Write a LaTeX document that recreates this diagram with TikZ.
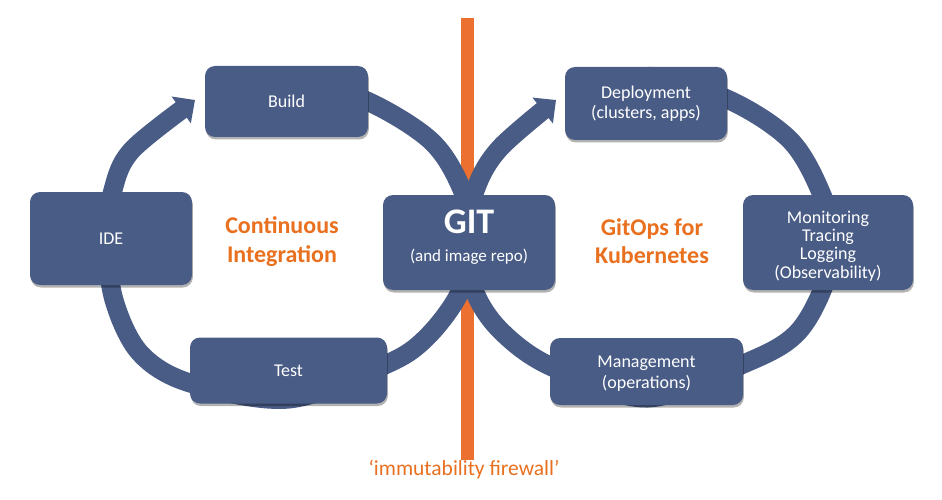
\documentclass[tikz,border=0pt]{standalone}
\usepackage{fontspec}
\setmainfont{Carlito}
\usetikzlibrary{arrows.meta,shadows}
\definecolor{boxblue}{HTML}{495C86}
\definecolor{fireorange}{HTML}{EC7130}
\definecolor{textorange}{HTML}{E8701F}
\begin{document}
\begin{tikzpicture}[x=1pt,y=-1pt,
  box/.style={rectangle, rounded corners=10pt, fill=boxblue, text=white, align=center,
    inner sep=0pt, font=\fontsize{18}{20.5}\selectfont,
    drop shadow={shadow xshift=0.8pt, shadow yshift=-2.5pt, opacity=0.3, fill=black}},
  boxtext/.style={text=white, align=center, inner sep=0pt, font=\fontsize{18}{20.5}\selectfont},
  ring/.style={draw=boxblue, line width=19pt, -{Triangle[length=17pt,width=32pt]}},
  orangelbl/.style={text=textorange, align=center, font=\bfseries\fontsize{24}{28.5}\selectfont}]
\fill[white] (0,0) rectangle (942,500);
\useasboundingbox (0,0) rectangle (942,500);
% firewall line
\coordinate (fwtop) at (467.5,18);
\coordinate (fwbot) at (467.5,460);
\draw[fireorange, line width=13pt] (fwtop) -- (fwbot);
% rings
\draw[ring] plot[smooth, tension=0.55] coordinates {(289,76) (367,101) (430,140) (460,185) (474,238) (460,292) (427,337) (387,364) (289,399) (190,383) (140,353) (114,300) (107,240) (113,190) (132,150) (195,100)};
\draw[ring] plot[smooth, tension=0.55] coordinates {(647,76) (727,99) (790,140) (822,195) (834,244) (821,293) (795,335) (748,362) (647,398) (550,366) (500,330) (474,290) (466,240) (476,188) (500,148) (556,100)};
% boxes
\node[box, minimum width=163pt, minimum height=71pt] (build) at (286.5,101.5) {Build};
\node[box, minimum width=162pt, minimum height=93pt] (ide) at (111,238.5) {IDE};
\node[box, minimum width=197pt, minimum height=66pt] (test) at (288.5,370.5) {Test};
\node[box, minimum width=172pt, minimum height=95pt] (git) at (469,242.5) {};
\node[boxtext, font=\bfseries\fontsize{36}{36}\selectfont] (gitt) at (469,222) {GIT};
\node[boxtext, font=\fontsize{17}{17}\selectfont] (gitsub) at (469,257) {(and image repo)};
\node[box, minimum width=162pt, minimum height=73pt] (deploy) at (646,103.5) {Deployment\\(clusters, apps)};
\node[box, minimum width=170pt, minimum height=95pt] (mon) at (828,242.5) {};
\node[boxtext, font=\fontsize{18}{18.3}\selectfont] (mont) at (828,246) {Monitoring\\Tracing\\Logging\\(Observability)};
\node[box, minimum width=193pt, minimum height=67pt] (mgmt) at (646.5,371.5) {};
\node[boxtext] (mgmtt) at (646.5,373.5) {Management\\(operations)};
% labels
\node[orangelbl] (ci) at (282,241.5) {Continuous\\Integration};
\node[orangelbl] (gitops) at (652,241) {GitOps for\\Kubernetes};
\node[text=textorange, font=\fontsize{21.5}{24}\selectfont] (fw) at (464,469) {‘immutability firewall’};
\end{tikzpicture}
\end{document}
